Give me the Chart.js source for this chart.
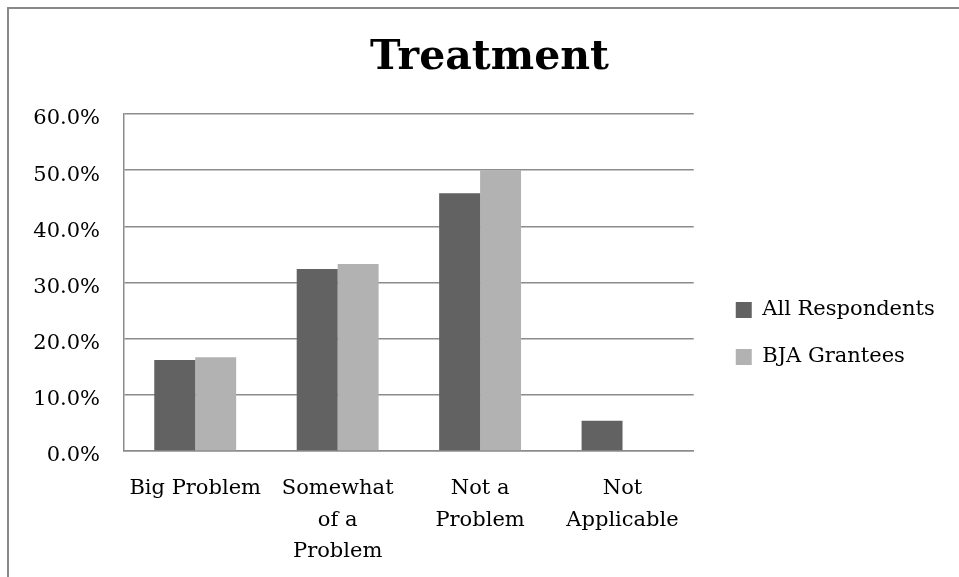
<!DOCTYPE html>
<html>
<head>
<meta charset="utf-8">
<script src="https://cdn.jsdelivr.net/npm/chart.js@4"></script>
<style>
  html, body { margin: 0; padding: 0; background: #fff; overflow: hidden; }
  .frame { position: absolute; left: 7px; top: 7px; width: 1200px; height: 900px;
           border-left: 2px solid #898989; border-top: 2px solid #898989; }
  .wrap { position: absolute; left: 0; top: 0; width: 980px; height: 577px; }
</style>
</head>
<body>
<div class="frame"></div>
<div class="wrap"><canvas id="treatmentChart" width="980" height="577"></canvas></div>
<script>
// chart data
const categories = [['Big Problem'], ['Somewhat', 'of a', 'Problem'], ['Not a', 'Problem'], ['Not', 'Applicable']];
const allRespondents = [16.2, 32.4, 45.9, 5.4];
const bjaGrantees = [16.7, 33.3, 50.0, 0];
const yTicks = [0, 10, 20, 30, 40, 50, 60];

const fontFamily = '"DejaVu Serif", serif';
const gridColor = '#8c8c8c';

// nudge legend and title to where Excel puts them
const boxShift = {
  id: 'boxShift',
  afterLayout(chart) {
    const lg = chart.legend;
    lg.left += 16; lg.right += 60;
    lg.top += 45; lg.bottom += 45;
    const t = chart.titleBlock;
    t.left += 27; t.right += 27;
  }
};

new Chart(document.getElementById('treatmentChart'), {
  type: 'bar',
  data: {
    labels: categories,
    datasets: [{
      label: 'All Respondents',
      data: allRespondents,
      backgroundColor: '#626262',
      categoryPercentage: 0.575,
      barPercentage: 1.0
    }, {
      label: 'BJA Grantees',
      data: bjaGrantees,
      backgroundColor: '#b2b2b2',
      categoryPercentage: 0.575,
      barPercentage: 1.0
    }]
  },
  options: {
    responsive: false,
    animation: false,
    devicePixelRatio: 1,
    layout: { padding: { left: 0, right: 55, top: 0, bottom: 0 } },
    plugins: {
      title: {
        display: true,
        text: 'Treatment',
        color: '#000',
        font: { family: fontFamily, size: 41, weight: 'bold', lineHeight: 1.2 },
        padding: { top: 34, bottom: 30.8 }
      },
      legend: {
        position: 'right',
        labels: {
          color: '#000',
          font: { family: fontFamily, size: 21 },
          boxWidth: 16,
          boxHeight: 16,
          padding: 26
        }
      },
      tooltip: { enabled: false }
    },
    scales: {
      x: {
        grid: { display: false },
        border: { display: true, color: gridColor, width: 1.5 },
        ticks: {
          color: '#000',
          font: { family: fontFamily, size: 21, lineHeight: 1.5 },
          padding: 14,
          maxRotation: 0,
          autoSkip: false
        },
        afterFit(scale) { scale.height = 126; }
      },
      y: {
        min: 0,
        max: 60,
        afterBuildTicks(scale) { scale.ticks = yTicks.map(v => ({ value: v })); },
        grid: { color: gridColor, lineWidth: 1.5, drawTicks: false },
        border: { display: true, color: gridColor, width: 1.5 },
        ticks: {
          color: '#000',
          font: { family: fontFamily, size: 21 },
          padding: 24,
          labelOffset: 5,
          callback: v => v.toFixed(1) + '%'
        },
        afterFit(scale) { scale.width = 124; }
      }
    }
  },
  plugins: [boxShift]
});
</script>
</body>
</html>
